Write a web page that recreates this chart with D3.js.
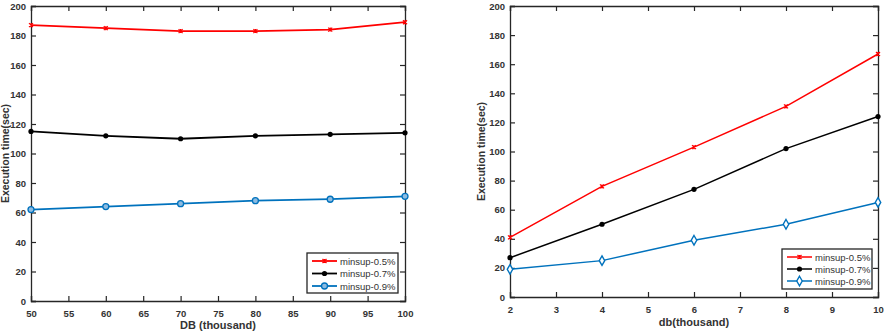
<!DOCTYPE html>
<html><head><meta charset="utf-8">
<script src="https://cdn.jsdelivr.net/npm/d3@7"></script>
<style>
body{margin:0;background:#fff;}
text{font-family:"Liberation Sans",Arial,sans-serif;font-weight:bold;fill:#333;}
</style></head>
<body><svg id="c" width="887" height="332"></svg>
<script>
// ---- data ----
const seriesNames = ["minsup-0.5%", "minsup-0.7%", "minsup-0.9%"];
const seriesColors = ["#ff0000", "#000000", "#0072bd"];

const leftX = [50, 60, 70, 80, 90, 100];
const left05 = [187, 185, 183, 183, 184, 189];
const left07 = [115, 112, 110, 112, 113, 114];
const left09 = [62, 64, 66, 68, 69, 71];
const leftXTicks = [50, 55, 60, 65, 70, 75, 80, 85, 90, 95, 100];
const leftYTicks = [0, 20, 40, 60, 80, 100, 120, 140, 160, 180, 200];

const rightX = [2, 4, 6, 8, 10];
const right05 = [41, 76, 103, 131, 167];
const right07 = [27, 50, 74, 102, 124];
const right09 = [19, 25, 39, 50, 65];
const rightXTicks = [2, 3, 4, 5, 6, 7, 8, 9, 10];
const rightYTicks = [0, 20, 40, 60, 80, 100, 120, 140, 160, 180, 200];

const svg = d3.select("#c");

function panel(cfg) {
  const g = svg.append("g");
  const x = d3.scaleLinear().domain(cfg.xDomain).range([cfg.x0, cfg.x1]);
  const y = d3.scaleLinear().domain([0, 200]).range([cfg.y1, cfg.y0]);
  const tl = 5;
  const ax = g.append("g").attr("transform", `translate(0,${cfg.y1})`)
    .call(d3.axisBottom(x).tickValues(cfg.xTicks).tickSize(-tl).tickPadding(9).tickFormat(d3.format("d")));
  const axt = g.append("g").attr("transform", `translate(0,${cfg.y0})`)
    .call(d3.axisTop(x).tickValues(cfg.xTicks).tickSize(-tl).tickFormat(""));
  const ay = g.append("g").attr("transform", `translate(${cfg.x0},0)`)
    .call(d3.axisLeft(y).tickValues(cfg.yTicks).tickSize(-tl).tickPadding(5));
  const ayr = g.append("g").attr("transform", `translate(${cfg.x1},0)`)
    .call(d3.axisRight(y).tickValues(cfg.yTicks).tickSize(-tl).tickFormat(""));
  [ax, axt, ay, ayr].forEach(a => {
    a.select(".domain").attr("stroke", "#262626").attr("stroke-width", 1.3);
    a.selectAll(".tick line").attr("stroke", "#262626").attr("stroke-width", 1.2);
    a.selectAll("text").attr("font-size", 9.5).style("font-family", "Liberation Sans, Arial, sans-serif").style("font-weight", "bold").attr("fill", "#333");
  });
  g.append("text").attr("x", (cfg.x0 + cfg.x1) / 2).attr("y", cfg.xLabelY)
    .attr("text-anchor", "middle").attr("font-size", 11).attr("fill", "#333").text(cfg.xLabel);
  g.append("text").attr("transform", `translate(${cfg.yLabelX},${(cfg.y0 + cfg.y1) / 2}) rotate(-90)`)
    .attr("text-anchor", "middle").attr("font-size", 10.5).attr("fill", "#333").text("Execution time(sec)");

  const line = d3.line().x(d => x(d[0])).y(d => y(d[1]));
  cfg.series.forEach((vals, i) => {
    const pts = cfg.xs.map((v, j) => [v, vals[j]]);
    g.append("path").datum(pts).attr("d", line).attr("fill", "none")
      .attr("stroke", seriesColors[i]).attr("stroke-width", cfg.lw);
    pts.forEach(p => marker(g, x(p[0]), y(p[1]), i, cfg.blueMarker));
  });

  const L = cfg.legend;
  g.append("rect").attr("x", L.x).attr("y", L.y).attr("width", L.w).attr("height", L.h)
    .attr("fill", "#fff").attr("stroke", "#262626").attr("stroke-width", 1.3);
  seriesNames.forEach((n, i) => {
    const yy = L.y + 8 + i * L.dy;
    g.append("line").attr("x1", L.x + 5).attr("x2", L.x + 30).attr("y1", yy).attr("y2", yy)
      .attr("stroke", seriesColors[i]).attr("stroke-width", cfg.lw);
    marker(g, L.x + 17.5, yy, i, cfg.blueMarker);
    g.append("text").attr("x", L.x + 33).attr("y", yy + 3.5).attr("font-size", 9.5)
      .style("font-weight", "normal").attr("fill", "#222").text(n);
  });
}

function marker(g, cx, cy, i, blueMarker) {
  const c = seriesColors[i];
  if (i === 0) {
    const s = 2;
    g.append("path").attr("d", `M${cx - s},${cy - s}L${cx + s},${cy + s}M${cx - s},${cy + s}L${cx + s},${cy - s}M${cx},${cy - s}L${cx},${cy + s}`)
      .attr("stroke", c).attr("stroke-width", 1.2);
  } else if (i === 1) {
    g.append("circle").attr("cx", cx).attr("cy", cy).attr("r", 2.6).attr("fill", c);
  } else {
    if (blueMarker === "diamond") {
      g.append("path").attr("d", d3.symbol(d3.symbolDiamond, 26)()).attr("transform", `translate(${cx},${cy})`)
        .attr("fill", "#fff").attr("stroke", c).attr("stroke-width", 1.4);
    } else {
      g.append("circle").attr("cx", cx).attr("cy", cy).attr("r", 3).attr("fill", "#8dbbe0")
        .attr("stroke", c).attr("stroke-width", 1.3);
    }
  }
}

panel({
  x0: 31, x1: 405, y0: 6, y1: 301,
  xDomain: [50, 100], xTicks: leftXTicks, yTicks: leftYTicks,
  xs: leftX, series: [left05, left07, left09],
  xLabel: "DB (thousand)", xLabelY: 329, yLabelX: 9,
  lw: 1.8, blueMarker: "circle",
  legend: { x: 307, y: 253, w: 91, h: 40, dy: 12.5 }
});
panel({
  x0: 510, x1: 878, y0: 6, y1: 297,
  xDomain: [2, 10], xTicks: rightXTicks, yTicks: rightYTicks,
  xs: rightX, series: [right05, right07, right09],
  xLabel: "db(thousand)", xLabelY: 326, yLabelX: 485,
  lw: 1.5, blueMarker: "diamond",
  legend: { x: 782, y: 249, w: 90, h: 40, dy: 12 }
});
</script></body></html>
